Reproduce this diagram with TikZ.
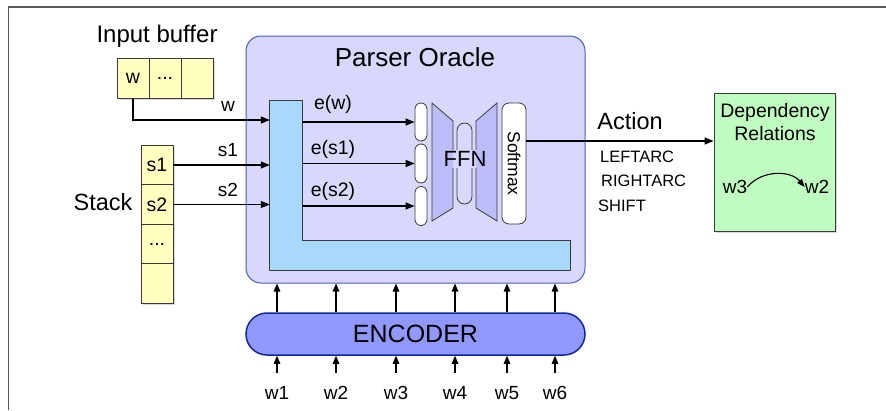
\documentclass[tikz,border=0pt]{standalone}
\usepackage{fontspec}
\setmainfont{Liberation Sans}
\usetikzlibrary{arrows.meta}
\definecolor{cellfill}{HTML}{FFFFC0}
\definecolor{oraclefill}{HTML}{D8D8FC}
\definecolor{oracleline}{HTML}{4A5CC8}
\definecolor{embfill}{HTML}{A8D8FC}
\definecolor{ffnfill}{HTML}{BCBCF8}
\definecolor{encfill}{HTML}{9098FC}
\definecolor{encline}{HTML}{10289C}
\definecolor{depfill}{HTML}{C0FCC0}
\definecolor{edgecol}{HTML}{3A3A3A}
\newcommand{\fs}[1]{\fontsize{#1}{#1}\selectfont}
\begin{document}
\begin{tikzpicture}[x=1pt,y=-1pt,
  conn/.style={line width=1.3pt, -{Triangle[length=9pt,width=7pt]}},
  upconn/.style={line width=1.3pt, -{Triangle[length=8pt,width=6.5pt]}},
  cellbox/.style={draw=edgecol, line width=0.9pt, fill=cellfill, minimum width=32pt, minimum height=39.5pt, inner sep=0pt, font=\fs{19.5}},
  pillbox/.style={draw=edgecol, line width=0.8pt, fill=white, rounded corners=6pt, minimum width=12pt, inner sep=0pt},
  lbl/.style={font=\fs{19}, inner sep=0pt},
  thinedge/.style={draw=edgecol, line width=0.8pt},
  shadowfill/.style={fill=black, opacity=0.15}
]
\useasboundingbox (0,0) rectangle (886,410);
% frame
\draw[line width=1.5pt, draw=black!65] (8.5,410) -- (8.5,7) -- (886,7);

% parser oracle
\node[draw=oracleline, fill=oraclefill, line width=1pt, rounded corners=15pt, minimum width=339pt, minimum height=247pt, inner sep=0pt] (oracle) at (415.5,159.5) {};
\node[font=\fs{26}, inner sep=0pt] (title) at (415,57) {Parser Oracle};

% embedding L shape
\node[fill=embfill, minimum width=32pt, minimum height=169pt, inner sep=0pt] (lbar) at (286,185.5) {};
\node[fill=embfill, minimum width=300pt, minimum height=29pt, inner sep=0pt] (hbar) at (420,255.5) {};
\draw[edgecol, line width=0.9pt] (lbar.north west) -- (lbar.north east) -- (lbar.east |- hbar.north) -- (hbar.north east) -- (hbar.south east) -- (hbar.south west) -- cycle;

% input buffer
\node[font=\fs{24}, inner sep=0pt] (ibl) at (157,36) {Input buffer};
\fill[shadowfill] (118.5,60.5) rectangle (214.5,100);
\node[cellbox] (b1) at (133,78.5) {w};
\node[cellbox] (b2) at (165,78.5) {...};
\node[cellbox] (b3) at (197,78.5) {};

% stack
\node[font=\fs{23.5}, inner sep=0pt] (stl) at (103,202) {Stack};
\fill[shadowfill] (142.5,146.5) rectangle (174.5,305);
\node[cellbox] (st1) at (157,165) {s1};
\node[cellbox] (st2) at (157,204.5) {s2};
\node[cellbox] (st3) at (157,244) {...};
\node[cellbox] (st4) at (157,283.5) {};

% inputs to embedding
\coordinate (wrow) at (0,120);
\draw[conn] (b1.south) |- (lbar.west |- wrow);
\draw[conn] (st1.east) -- (st1.east -| lbar.west);
\draw[conn] (st2.east) -- (st2.east -| lbar.west);
\node[lbl] (lw) at (228,106) {w};
\node[lbl] (ls1) at (228,150) {s1};
\node[lbl] (ls2) at (228,190) {s2};

% pills
\node[pillbox, minimum height=38pt] (p1) at (421,122) {};
\node[pillbox, minimum height=39pt] (p2) at (421,163.5) {};
\node[pillbox, minimum height=39pt] (p3) at (421,206) {};
\draw[conn] (lbar.east |- p1.west) -- (p1.west);
\draw[conn] (lbar.east |- p2.west) -- (p2.west);
\draw[conn] (lbar.east |- p3.west) -- (p3.west);
\node[font=\fs{19.5}, inner sep=0pt] (ew) at (333,104) {e(w)};
\node[font=\fs{19.5}, inner sep=0pt] (es1) at (333,149) {e(s1)};
\node[font=\fs{19.5}, inner sep=0pt] (es2) at (333,191) {e(s2)};

% FFN
\fill[ffnfill] (432,103) -- (453,121) -- (453,208) -- (432,221) -- cycle;
\draw[thinedge] (453,150) -- (453,121) -- (432,103) -- (432,221) -- (453,208) -- (453,168);
\fill[ffnfill] (497,103) -- (476,121) -- (476,208) -- (497,221) -- cycle;
\draw[thinedge] (476,150) -- (476,121) -- (497,103) -- (497,221) -- (476,208) -- (476,168);
\draw[thinedge, rounded corners=7.5pt] (457,150) -- (457,123) -- (472,123) -- (472,150);
\draw[thinedge, rounded corners=7.5pt] (457,168) -- (457,204) -- (472,204) -- (472,168);
\node[font=\fs{22}, inner sep=0pt] (ffn) at (465,159) {FFN};

% softmax
\node[draw=edgecol, fill=white, line width=0.8pt, rounded corners=7pt, minimum width=24pt, minimum height=121pt, inner sep=0pt] (sm) at (514,163.5) {};
\node[rotate=-90, font=\fs{17.5}, inner sep=0pt] (smt) at (sm.center) {Softmax};

% dependency relations
\fill[shadowfill] (715.5,94.5) rectangle (836.5,232.5);
\node[draw=edgecol, fill=depfill, line width=0.9pt, minimum width=121pt, minimum height=138pt, inner sep=0pt] (dep) at (774.5,162) {};
\node[align=center, inner sep=0pt, font={\fontsize{19.5}{23}\selectfont}] (deptxt) at (775,122.5) {Dependency\\Relations};
\node[lbl] (dw3) at (735,187) {w3};
\node[lbl] (dw2) at (817,187) {w2};
\draw[line width=1.1pt, -{Triangle[length=8pt,width=6pt]}] (dw3.east) to[bend left=50] (dw2.west);

% action
\coordinate (acty) at (0,141);
\draw[conn] (sm.east |- acty) -- (dep.west |- acty);
\node[font=\fs{23.5}, inner sep=0pt] (act) at (630,121) {Action};
\node[font=\fs{16.5}, inner sep=0pt, anchor=west] (la) at (600,157) {LEFTARC};
\node[font=\fs{16.5}, inner sep=0pt, anchor=west] (ra) at (601,181) {RIGHTARC};
\node[font=\fs{16.5}, inner sep=0pt, anchor=west] (sh) at (598,206) {SHIFT};

% encoder
\node[draw=encline, fill=encfill, line width=1.5pt, rounded corners=21pt, minimum width=339pt, minimum height=42pt, inner sep=0pt, font=\fs{25}] (enc) at (415.5,334) {ENCODER};

\foreach \i/\x in {1/277,2/336,3/396,4/455,5/507,6/555}{
  \node[lbl, anchor=base] (w\i) at (\x,399) {w\i};
  \draw[upconn] ([yshift=13pt]w\i.north) -- (enc.south -| w\i.north);
  \draw[upconn] (enc.north -| w\i.north) -- (oracle.south -| w\i.north);
}
\end{tikzpicture}
\end{document}
